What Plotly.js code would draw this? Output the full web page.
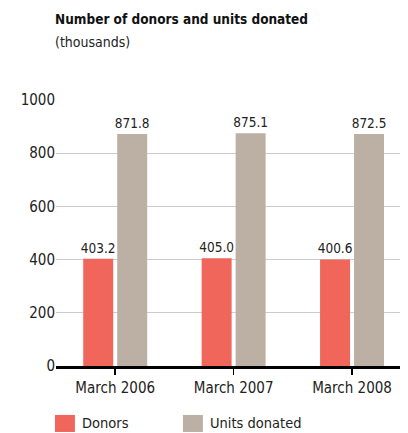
<!DOCTYPE html>
<html><head><meta charset="utf-8">
<script src="https://cdn.plot.ly/plotly-3.0.1.min.js"></script>
<style>html,body{margin:0;padding:0;background:#fff}</style>
</head><body><div id="chart" style="width:408px;height:433px"></div>
<script>
const categories = ["March 2006", "March 2007", "March 2008"];
const donors = [403.2, 405.0, 400.6];
const unitsDonated = [871.8, 875.1, 872.5];
const seriesNames = ["Donors", "Units donated"];
const seriesColors = ["#F0665A", "#BCAFA3"];
const yTicks = [0, 200, 400, 600, 800, 1000];

const FONT = "'DejaVu Sans Condensed', 'Liberation Sans Narrow', sans-serif";
const fmt = v => v.toFixed(1);

const traces = [donors, unitsDonated].map((vals, i) => ({
  type: "bar", name: seriesNames[i], x: categories, y: vals,
  text: vals.map(fmt), textposition: "outside", cliponaxis: false, constraintext: "none",
  textfont: {size: 13.5, color: "#222"},
  marker: {color: seriesColors[i]}, hoverinfo: "none"
}));

// Custom legend (larger swatches like the reference), built from the series names/colours
const legendX = [-0.003, 0.369];   // paper x of swatch left edges
const swW = 0.058, legY0 = -0.184, legY1 = -0.248;
const legendShapes = seriesNames.map((n, i) => ({
  type: "rect", xref: "paper", yref: "paper",
  x0: legendX[i], x1: legendX[i] + swW, y0: legY1, y1: legY0,
  fillcolor: seriesColors[i], line: {width: 0}
}));
const legendLabels = seriesNames.map((n, i) => ({
  text: n, xref: "paper", yref: "paper", x: legendX[i] + swW + 0.0145, y: (legY0 + legY1) / 2,
  xanchor: "left", yanchor: "middle", showarrow: false,
  font: {size: 14.5, color: "#222"}
}));

const layout = {
  width: 408, height: 433,
  margin: {l: 56, r: 8, t: 100, b: 67},
  paper_bgcolor: "#fff", plot_bgcolor: "#fff",
  font: {family: FONT, color: "#222", size: 15},
  barmode: "group", bargap: 0.426, bargroupgap: 0.118,
  showlegend: false,
  xaxis: {type: "category", range: [-0.5, 2.405], showline: true, linecolor: "#000", linewidth: 2.5,
          ticks: "outside", ticklen: 6, tickwidth: 1.5, tickcolor: "#000",
          tickfont: {size: 15, color: "#222"}, showgrid: false, fixedrange: true},
  yaxis: {range: [0, 1000], tickvals: yTicks, ticktext: yTicks.map(String),
          showline: false, zeroline: false, showgrid: true, gridcolor: "#cccccc", gridwidth: 1,
          ticks: "", tickfont: {size: 15, color: "#222"}, fixedrange: true},
  shapes: legendShapes,
  annotations: [
    {text: "<b>Number of donors and units donated</b>", xref: "paper", yref: "paper",
     x: 0, xshift: -3, y: 1.303, xanchor: "left", yanchor: "middle", showarrow: false,
     font: {size: 13.5, color: "#111"}},
    {text: "(thousands)", xref: "paper", yref: "paper",
     x: 0, xshift: -3, y: 1.218, xanchor: "left", yanchor: "middle", showarrow: false,
     font: {size: 14, color: "#222"}}
  ].concat(legendLabels)
};

Plotly.newPlot("chart", traces, layout, {displayModeBar: false, staticPlot: true});
</script></body></html>
